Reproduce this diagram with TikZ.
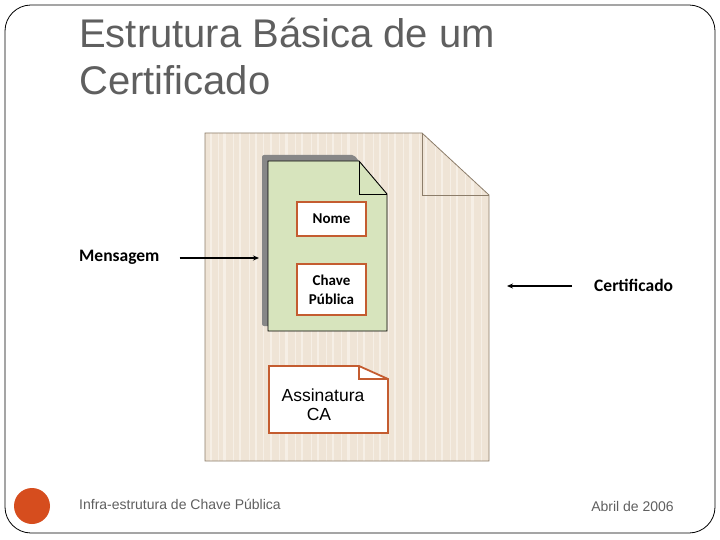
\documentclass[tikz,border=0pt]{standalone}
\usepackage{fontspec}
\setmainfont{Liberation Sans}
\newfontfamily\calibri{Carlito}
\usetikzlibrary{positioning,arrows.meta}

\definecolor{titlegray}{RGB}{95,95,95}
\definecolor{paper}{RGB}{239,228,214}
\definecolor{paperline}{RGB}{246,239,230}
\definecolor{paperedge}{RGB}{140,125,106}
\definecolor{certgreen}{RGB}{215,228,189}
\definecolor{boxorange}{RGB}{196,92,48}
\definecolor{dotorange}{RGB}{214,77,30}

\begin{document}
\begin{tikzpicture}[
  x=1pt, y=-1pt,
  title/.style={anchor=north west, inner sep=0pt, text=titlegray,
    font=\fontsize{40}{46}\selectfont},
  footer/.style={inner sep=0pt, text=titlegray,
    font=\fontsize{14}{16}\selectfont},
  label/.style={inner sep=0pt, font=\calibri\bfseries\fontsize{17.5}{20}\selectfont},
  field/.style={rectangle, draw=boxorange, fill=white, line width=1.5pt,
    minimum width=69pt, minimum height=34pt, inner sep=0pt,
    align=center, font=\calibri\bfseries\fontsize{15}{19}\selectfont},
  arr/.style={-{Stealth[length=6pt,width=5pt]}, line width=1.4pt}
]
\useasboundingbox (0,0) rectangle (720,540);

% slide frame
\draw[line width=0.8pt, rounded corners=26pt] (5,5) rectangle (715,533);

\node[title] (t1) at (79,18) {Estrutura Básica de um};
\node[title] (t2) at (79,65) {Certificado};

% certificate page
\path[fill=paper] (205,133) -- (422,133) -- (489,195) -- (489,461) -- (205,461) -- cycle;
\begin{scope}
  \clip (205,133) -- (422,133) -- (489,195) -- (489,461) -- (205,461) -- cycle;
  \foreach \x/\w in {211/2,218/1,224/3,233/1,240/2,249/1,256/2,263/1,
                     271/2,279/1,286/3,295/1,302/2,311/1,318/2,326/1,
                     333/2,341/1,348/3,357/1,364/2,373/1,380/2,388/1,
                     395/2,403/1,410/3,419/1,426/2,435/1,442/2,450/1,
                     457/2,465/1,472/3,481/1}
    \draw[paperline, line width=\w pt] (\x,133) -- (\x,461);
\end{scope}
\draw[paperedge, line width=0.8pt] (205,133) -- (422,133) -- (489,195) -- (489,461) -- (205,461) -- cycle;
\draw[paperedge, line width=0.8pt] (422,133) -- (422,195) -- (489,195);

% public part of the certificate
\fill[gray!95!black!90, rounded corners=2pt] (262,155) -- (354,155) -- (381,188) -- (381,326) -- (262,326) -- cycle;
\draw[fill=certgreen, line width=0.9pt] (268,161) -- (359,161) -- (387,194) -- (387,331) -- (268,331) -- cycle;
\draw[line width=0.9pt] (359,161) -- (359,194) -- (387,194);

\node[field] (nome)  at (331.5,219) {Nome};
\node[field, minimum height=51pt] (chave) at (331.5,289.5) {Chave\\Pública};

% signature
\draw[boxorange, fill=white, line width=1.8pt] (269,366) -- (359,366) -- (388,379) -- (388,433) -- (269,433) -- cycle;
\draw[boxorange, line width=1.8pt] (359,366) -- (359,379) -- (388,379);
\node[inner sep=0pt, align=center, font=\fontsize{17.5}{19}\selectfont] (sig) at (323,405) {Assinatura\\\hspace*{-8pt}CA};

% labels and arrows
\node[label, anchor=west] (msg)  at (79,257) {Mensagem};
\node[label, anchor=west] (cert) at (594,285) {Certificado};
\coordinate (msgend)  at (259,258);
\coordinate (certend) at (507,286);
\draw[arr] ([xshift=20pt]msg.east |- msgend) -- (msgend);
\draw[arr] ([xshift=-22pt]cert.west |- certend) -- (certend);

% footer
\fill[dotorange] (32,506) circle (18);
\node[footer, anchor=west] (foot1) at (79,504) {Infra-estrutura de Chave Pública};
\node[footer, anchor=east] (foot2) at (674,506) {Abril de 2006};
\end{tikzpicture}
\end{document}
